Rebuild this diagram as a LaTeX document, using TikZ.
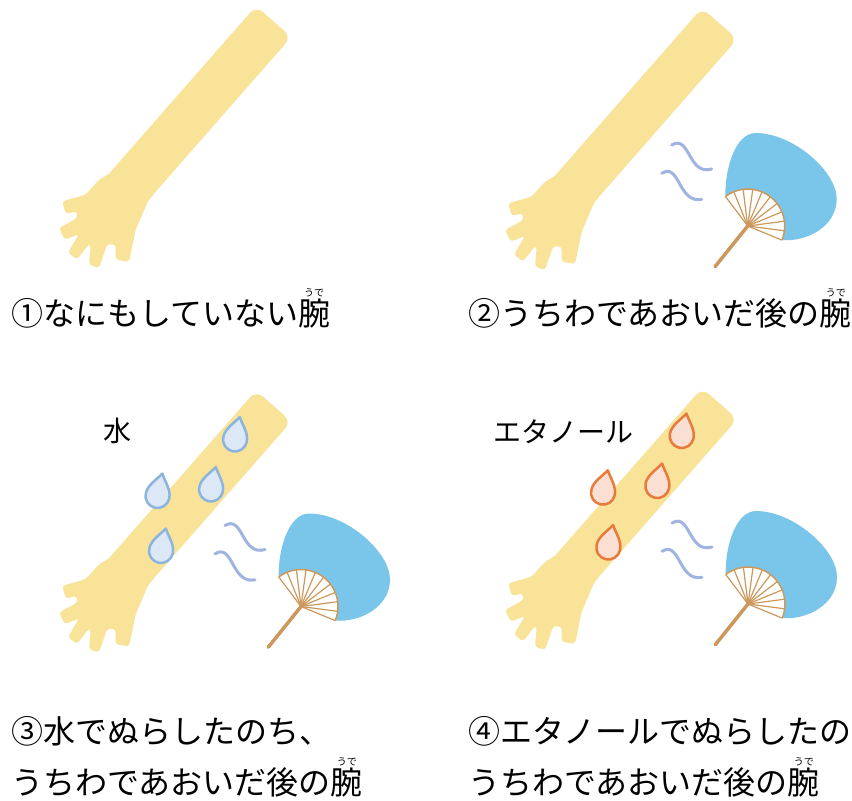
\documentclass[tikz,border=0pt]{standalone}
\usepackage{fontspec}
\newfontfamily\jp{Noto Sans CJK JP}
\definecolor{armc}{RGB}{249,227,153}
\definecolor{fanblue}{RGB}{122,198,234}
\definecolor{tanc}{RGB}{204,152,92}
\definecolor{windc}{RGB}{160,180,225}
\definecolor{wfill}{RGB}{220,232,245}
\definecolor{wline}{RGB}{140,180,222}
\definecolor{efill}{RGB}{251,223,210}
\definecolor{eline}{RGB}{232,122,60}
% ruby (furigana) over a single full-width character
\newcommand\withruby[2]{\leavevmode\rlap{\raisebox{29pt}[0pt][0pt]{\makebox[32pt]{\fontsize{10}{10}\selectfont #2}}}#1}
\tikzset{
  caption/.style={font=\jp\fontsize{32}{36}\selectfont, anchor=base west, inner sep=0pt},
  tag/.style={font=\jp\fontsize{28}{32}\selectfont, inner sep=0pt},
  waterdrop/.style={draw=wline, fill=wfill, line width=2.5pt, line join=round},
  ethdrop/.style={draw=eline, fill=efill, line width=2.5pt, line join=round},
  % forearm with hand, drawn in the coordinates of the first panel
  arm/.pic={
    \fill[armc, rounded corners=9pt] (101.1,182.7) -- (256,6) -- (291.3,37) -- (136.4,213.7) -- cycle;
    \fill[armc, rounded corners=3pt] (110.5,173) -- (99,179.7) -- (85.7,194.7) -- (62.3,201.3)
      -- (65.7,214) -- (76.7,211.3) -- (77.3,218) -- (59,228) -- (64.7,239.7) -- (79,234)
      -- (68,252.5) -- (77,259.5) -- (89,244) -- (90.7,244.7) -- (89,264.7) -- (99,268)
      -- (107.3,244) -- (115.7,244.7) -- (115.7,259.7) -- (129,262) -- (135.7,229.7)
      -- (148,201) -- (172,170) -- cycle;
  },
  % round fan with wind marks; origin is the hub of the ribs
  fan/.pic={
    \draw[windc, line width=3pt, line cap=round] (-76,-81) .. controls (-57.7,-92) and (-59.7,-50) .. (-36,-57);
    \draw[windc, line width=3pt, line cap=round] (-86,-52.7) .. controls (-67.7,-64) and (-69.7,-22) .. (-46,-26.7);
    \fill[fanblue] (-127:37) .. controls (-23,-58) and (-12,-93) .. (8,-93)
      .. controls (45,-93) and (89,-55) .. (89,-27)
      .. controls (89,0) and (60,16) .. (22.4:37)
      arc[start angle=22.4, end angle=-127, radius=37] -- cycle;
    \foreach \k in {0,...,10}
      \draw[tanc, line width=1.2pt] (0,0) -- ({-127+\k*14.94}:37);
    \draw[tanc, line width=1.5pt] (22.4:37) arc[start angle=22.4, end angle=-127, radius=37];
    \draw[tanc, line width=3.5pt, line cap=round] (0,0) -- (-32.7,40.7);
  },
  drop/.pic={
    \path[pic actions] (0,-23) .. controls (4,-16) and (12,-9) .. (12,0)
      arc[start angle=0, end angle=180, radius=12] .. controls (-12,-9) and (-4,-16) .. cycle;
  }
}
\begin{document}
\begin{tikzpicture}[x=1pt, y=-1pt]
\useasboundingbox (0,0) rectangle (852,801);
\fill[white] (0,0) rectangle (852,801);

% panel 1: untreated arm
\pic (arm1) at (0,0) {arm};
\node[caption] (cap1) at (11,325) {①なにもしていない\withruby{腕}{うで}};

% panel 2: fanned arm
\pic (arm2) at (446,2) {arm};
\pic (fan2) at (747.7,226) {fan};
\node[caption] (cap2) at (468,325) {②うちわであおいだ後の\withruby{腕}{うで}};

% panel 3: wetted with water, then fanned
\pic (arm3) at (0,384.5) {arm};
\pic[waterdrop, rotate=-12] (w1) at (235,439.5) {drop};
\pic[waterdrop, rotate=-12] (w2) at (157.5,496) {drop};
\pic[waterdrop, rotate=-12] (w3) at (211,489.5) {drop};
\pic[waterdrop, rotate=-12] (w4) at (161,551) {drop};
\pic (fan3) at (301,606.5) {fan};
\node[tag] (water) at (117,431) {水};
\node[caption] (cap3a) at (11,743) {③水でぬらしたのち、};
\node[caption] (cap3b) at (11,794.5) {うちわであおいだ後の\withruby{腕}{うで}};

% panel 4: wetted with ethanol, then fanned
\pic (arm4) at (446,382) {arm};
\pic[ethdrop, rotate=-12] (e1) at (681.7,436) {drop};
\pic[ethdrop, rotate=-12] (e2) at (603,492.7) {drop};
\pic[ethdrop, rotate=-12] (e3) at (657.3,486) {drop};
\pic[ethdrop, rotate=-12] (e4) at (608.3,547.5) {drop};
\pic (fan4) at (748,604) {fan};
\node[tag] (ethanol) at (563.5,432) {エタノール};
\node[caption] (cap4a) at (468,743) {④エタノールでぬらしたの};
\node[caption] (cap4b) at (468,794.5) {うちわであおいだ後の\withruby{腕}{うで}};
\end{tikzpicture}
\end{document}
